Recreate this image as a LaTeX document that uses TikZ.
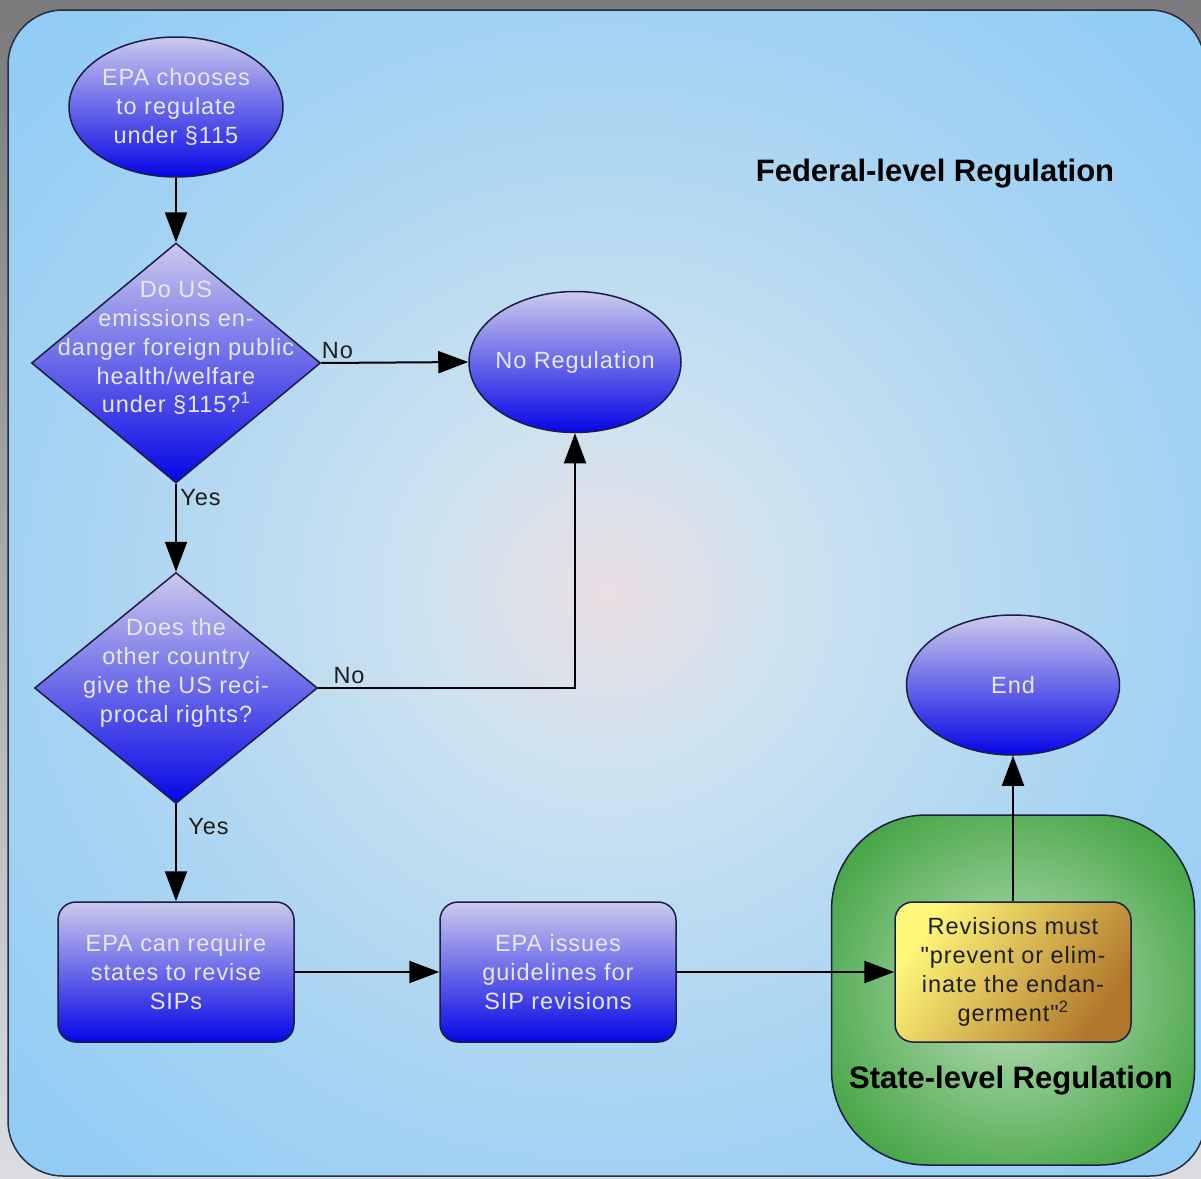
\documentclass[tikz,border=0pt]{standalone}
\usepackage{fontspec}
\setmainfont{Liberation Sans}
\newfontfamily\flowfont[LetterSpace=4]{Liberation Sans}
\usepackage{tikz}
\usetikzlibrary{arrows.meta,shapes.geometric,positioning}
\usepackage{xcolor}

\definecolor{outtop}{HTML}{7A7A7C}
\definecolor{outbot}{HTML}{DCDDE3}
\definecolor{framedge}{HTML}{2A2E3A}
\definecolor{glowcore}{HTML}{EADFE4}
\definecolor{glowring}{HTML}{CCE2F0}
\definecolor{skymid}{HTML}{A8D4F2}
\definecolor{skyedge}{HTML}{8CCBF7}
\definecolor{bluetop}{HTML}{CCCAEC}
\definecolor{bluemid}{HTML}{5C5CF2}
\definecolor{bluebot}{HTML}{0606E6}
\definecolor{navyline}{HTML}{1C1C44}
\definecolor{wtxt}{HTML}{E8E8F4}
\definecolor{greencore}{HTML}{BEE0BE}
\definecolor{greenedge}{HTML}{2E9A2E}
\definecolor{yellowtop}{HTML}{FFF77A}
\definecolor{yellowmid}{HTML}{F8EA6C}
\definecolor{yellowbot}{HTML}{B0762A}
\definecolor{darktxt}{HTML}{1E1E1E}

\pgfdeclareradialshading{federalglow}{\pgfpoint{0bp}{0bp}}{color(0bp)=(glowcore); color(8bp)=(glowring); color(22bp)=(skymid); color(36bp)=(skyedge); color(50bp)=(skyedge)}
\pgfdeclareradialshading{stateglow}{\pgfpoint{0bp}{0bp}}{color(0bp)=(greencore); color(36bp)=(greenedge); color(50bp)=(greenedge)}

\tikzset{
	shapeline/.style={draw=navyline, line width=1.5pt},
	bluefill/.style={top color=bluetop, middle color=bluemid, bottom color=bluebot},
	wtext/.style={text=wtxt, font=\flowfont\fontsize{23.5}{28.8}\selectfont, align=center, inner sep=0pt},
	terminal/.style={ellipse, shapeline, bluefill, minimum width=214pt, minimum height=140pt, inner sep=0pt},
	decision/.style={diamond, shapeline, bluefill, minimum width=289pt, minimum height=240pt, inner sep=0pt},
	process/.style={rectangle, rounded corners=18pt, shapeline, bluefill, wtext, minimum width=236pt, minimum height=140pt},
	statebox/.style={rectangle, rounded corners=95pt, shapeline, shading=stateglow, minimum width=363pt, minimum height=350pt},
	revbox/.style={process, top color=yellowtop, middle color=yellowmid, bottom color=yellowbot, shading angle=55, text=darktxt},
	flow/.style={draw=black, line width=2pt, -{Triangle[length=30pt,width=22pt]}},
	lbl/.style={text=darktxt, font=\flowfont\fontsize{23.5}{28.8}\selectfont},
	heading/.style={text=black, font=\bfseries\fontsize{31}{36}\selectfont},
}

\begin{document}
\begin{tikzpicture}[x=1pt, y=-1pt] % {{{
	\useasboundingbox (0,0) rectangle (1201,1178);
	% backdrop {{{
	\fill[top color=outtop, bottom color=outbot] (0,0) rectangle (1201,1178);
	\draw[draw=framedge, line width=1.5pt, rounded corners=55pt, shading=federalglow] (8,10) rectangle (1205,1176);
	\node[heading] (fedtitle) at (935,174) {Federal-level Regulation};
	% }}}
	% left column {{{
	\node[terminal, label={[wtext]center:{EPA chooses\\to regulate\\under §115}}] (start) at (176,107) {};
	\node[decision, label={[wtext, yshift=15pt]center:{Do US\\emissions en-\\danger foreign public\\health/welfare\\under §115?\textsuperscript{1}}}] (d1) at (176,363) {};
	\node[decision, minimum width=283pt, minimum height=231pt, label={[wtext, yshift=15pt]center:{Does the\\other country\\give the US reci-\\procal rights?}}] (d2) at (176,688) {};
	\node[process] (req) at (176,972) {EPA can require\\states to revise\\SIPs};
	% }}}
	% right side {{{
	\node[terminal, minimum width=212pt, minimum height=141pt, label={[wtext]center:{No Regulation}}] (noreg) at (575,362) {};
	\node[process] (iss) at (558,972) {EPA issues\\guidelines for\\SIP revisions};
	\node[statebox] (state) at (1013,990) {};
	\node[revbox] (rev) at (1013,972) {Revisions must\\"prevent or elim-\\inate the endan-\\germent"\textsuperscript{2}};
	\node[heading] (statetitle) at (1011,1081) {State-level Regulation};
	\node[terminal, minimum width=213pt, label={[wtext]center:{End}}] (end) at (1013,685) {};
	% }}}
	% connectors {{{
	\draw[flow] (start.south) -- (d1.north);
	\draw[flow] (d1.east) -- node[lbl, above, pos=0.11] (nolabel1) {No} (noreg.west);
	\draw[flow] (d1.south) -- node[lbl, right, pos=0.16] (yeslabel1) {Yes} (d2.north);
	\draw[flow] (d2.east) -| node[lbl, above, pos=0.06] (nolabel2) {No} (noreg.south);
	\draw[flow] (d2.south) -- node[lbl, right=8pt, pos=0.23] (yeslabel2) {Yes} (req.north);
	\draw[flow] (req.east) -- (iss.west);
	\draw[flow] (iss.east) -- (rev.west);
	\draw[flow] (rev.north) -- (end.south);
	% }}}
\end{tikzpicture} % }}}
\end{document}
